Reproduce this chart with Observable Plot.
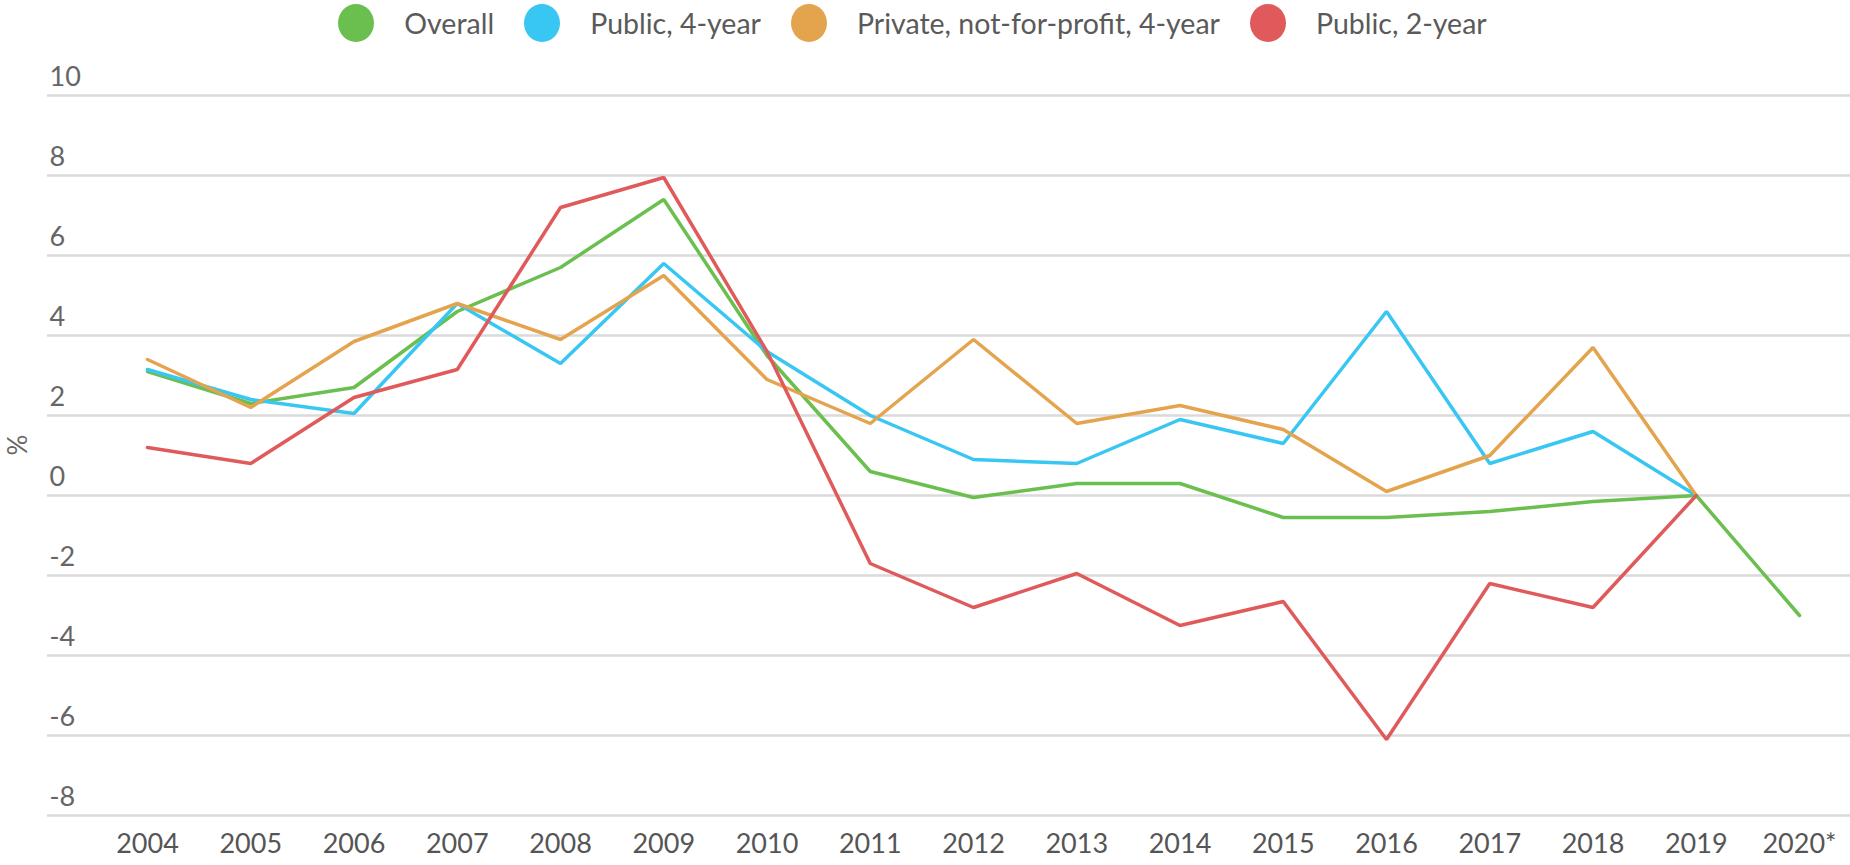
<!DOCTYPE html>
<html>
<head>
<meta charset="utf-8">
<script src="https://cdn.jsdelivr.net/npm/d3@7"></script>
<script src="https://cdn.jsdelivr.net/npm/@observablehq/plot@0.6"></script>
<style>
  body { margin: 0; background: #fff; font-family: Lato, "Open Sans", sans-serif; }
  #legend { height: 45px; display: flex; justify-content: center; align-items: center; padding-right: 25px; }
  .item { display: flex; align-items: center; margin: 0 15px; font-size: 28.5px; color: #5a5a5a; }
  .dot { width: 36px; height: 38px; border-radius: 50%; margin-right: 30px; }
  #chart svg { display: block; }
</style>
</head>
<body>
<div id="legend"></div>
<div id="chart"></div>
<script>
const years = [2004, 2005, 2006, 2007, 2008, 2009, 2010, 2011, 2012, 2013, 2014, 2015, 2016, 2017, 2018, 2019, 2020];
const yearLabels = ["2004", "2005", "2006", "2007", "2008", "2009", "2010", "2011", "2012", "2013", "2014", "2015", "2016", "2017", "2018", "2019", "2020*"];
const yTicks = [-8, -6, -4, -2, 0, 2, 4, 6, 8, 10];

const seriesNames = ["Overall", "Public, 4-year", "Private, not-for-profit, 4-year", "Public, 2-year"];
const seriesColors = ["#6abf4f", "#38c6f2", "#e4a44e", "#e05a5b"];

const overall  = [3.1, 2.3, 2.7, 4.6, 5.7, 7.4, 3.5, 0.6, -0.05, 0.3, 0.3, -0.55, -0.55, -0.4, -0.15, 0, -3.0];
const public4  = [3.15, 2.4, 2.05, 4.8, 3.3, 5.8, 3.6, 2.0, 0.9, 0.8, 1.9, 1.3, 4.6, 0.8, 1.6, 0, null];
const private4 = [3.4, 2.2, 3.85, 4.8, 3.9, 5.5, 2.9, 1.8, 3.9, 1.8, 2.25, 1.65, 0.1, 1.0, 3.7, 0, null];
const public2  = [1.2, 0.8, 2.45, 3.15, 7.2, 7.95, 3.6, -1.7, -2.8, -1.95, -3.25, -2.65, -6.1, -2.2, -2.8, 0, null];

const seriesValues = [overall, public4, private4, public2];

// legend
const legend = document.getElementById("legend");
seriesNames.forEach((name, i) => {
  const item = document.createElement("div");
  item.className = "item";
  const dot = document.createElement("span");
  dot.className = "dot";
  dot.style.background = seriesColors[i];
  const label = document.createElement("span");
  label.textContent = name;
  item.appendChild(dot);
  item.appendChild(label);
  legend.appendChild(item);
});

const tables = seriesValues.map((vals, s) =>
  years.map((year, i) => ({year, value: vals[i], series: seriesNames[s]})).filter(d => d.value != null)
);

const chart = Plot.plot({
  width: 1850,
  height: 820,
  marginLeft: 47,
  marginRight: 0,
  marginTop: 50,
  marginBottom: 50,
  x: {domain: [2004 - 100 / 103.25, 2020 + 51 / 103.25]},
  y: {domain: [-8, 10]},
  style: {fontFamily: "Lato, 'Open Sans', sans-serif", background: "#fff"},
  marks: [
    Plot.gridY(yTicks, {stroke: "#dadada", strokeOpacity: 1, strokeWidth: 2.5}),
    Plot.axisY(yTicks, {tickSize: 0, tickPadding: 0, textAnchor: "start", dx: 2, dy: -18, fontSize: 27, fill: "#666", tickFormat: d => String(d), label: null}),
    Plot.axisX(years, {tickSize: 0, tickPadding: 18, tickFormat: d => yearLabels[years.indexOf(d)], fontSize: 27, fill: "#555", label: null}),
    Plot.text(["%"], {frameAnchor: "left", dx: -29, rotate: -90, fontSize: 26, fill: "#666"}),
    ...tables.map((t, s) => Plot.line(t, {x: "year", y: "value", stroke: seriesColors[s], strokeWidth: 3.5, strokeLinejoin: "miter"}))
  ]
});
document.getElementById("chart").appendChild(chart);
</script>
</body>
</html>
